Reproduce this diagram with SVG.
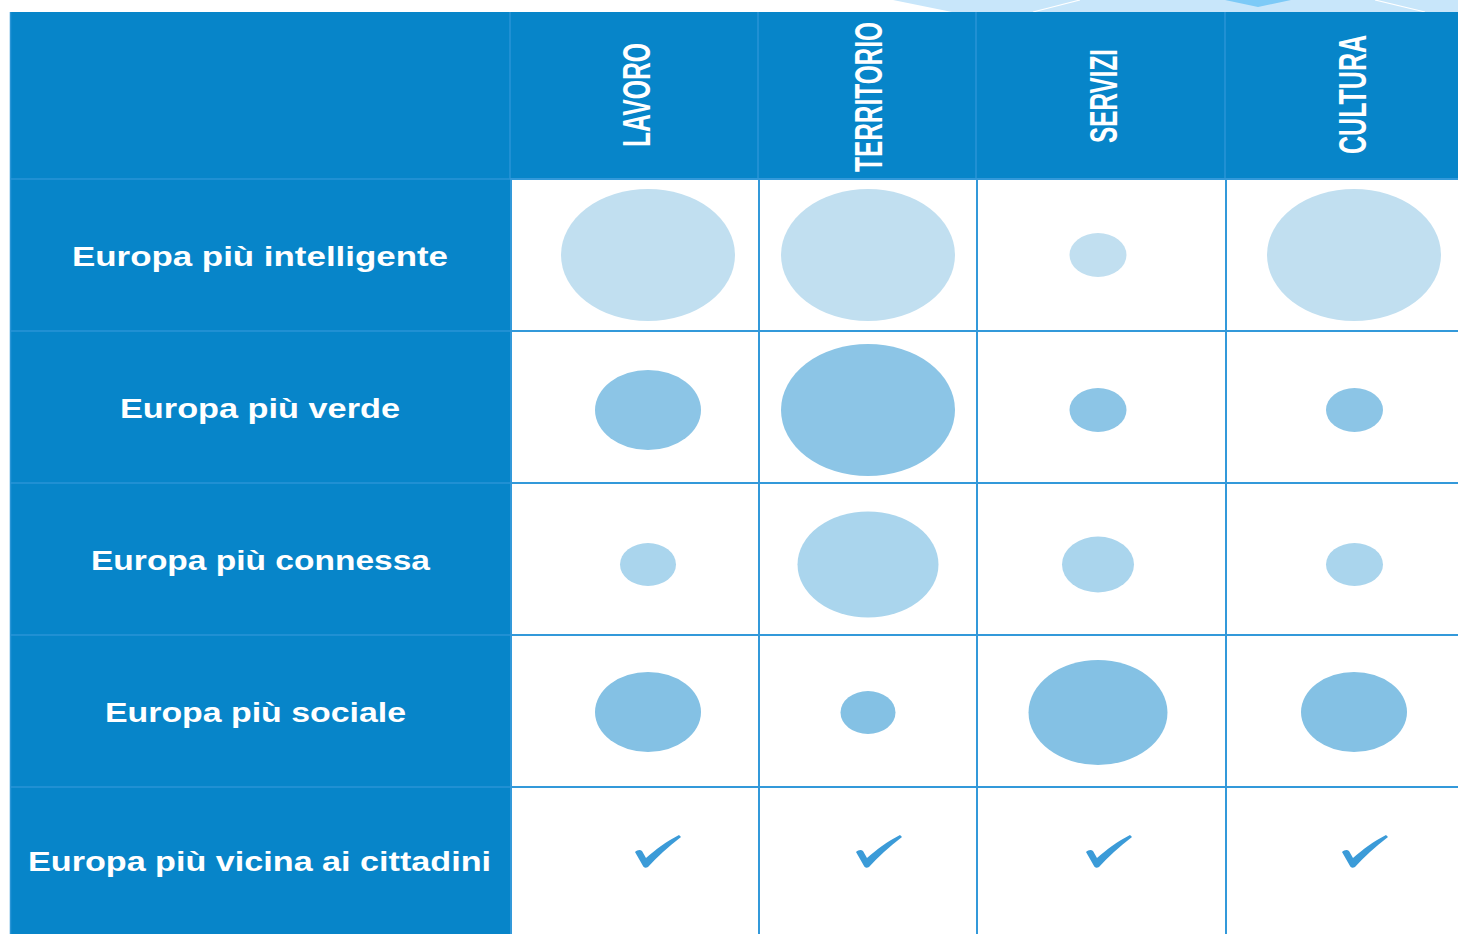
<svg xmlns="http://www.w3.org/2000/svg" width="1458" height="934" viewBox="0 0 1458 934">
<style>
.hdr{fill:#0785c9}
.lbl{font-family:"Liberation Sans",Arial,sans-serif;font-weight:bold;font-size:27px;fill:#ffffff;text-anchor:middle}
.col{font-family:"Liberation Sans",Arial,sans-serif;font-weight:bold;font-size:39px;fill:#ffffff;text-anchor:middle}
.gin{stroke:#2a95d6;stroke-width:1.5;fill:none}
.gout{stroke:#3399da;stroke-width:2;fill:none}
.c1{fill:#c1dff0}
.c2{fill:#8cc5e6}
.c3{fill:#aad5ed}
.c4{fill:#84c1e4}
.tick{fill:#3b9bd8}
</style>
<defs>
<path id="tk" d="M0,-1 C2,-3 5,-4 7,-2 L11,5 C20,-3 32,-12 44,-18 L46,-16 C33,-6 22,4 13,14 C11,15 9,15 8,13 Z"/>
</defs>
<rect width="1458" height="934" fill="#ffffff"/>
<g id="decor">
<polygon points="893,0 1458,0 1458,12 952,12" fill="#c8e6fa"/>
<polygon points="1225,0 1291,0 1258,7" fill="#7ccaf7"/>
<line x1="1033" y1="12" x2="1080" y2="0" stroke="#ffffff" stroke-width="1.2"/>
<line x1="1375" y1="0" x2="1425" y2="12" stroke="#ffffff" stroke-width="1.2"/>
</g>
<g id="header-bg">
<rect class="hdr" x="10" y="12" width="1448" height="167"/>
<rect class="hdr" x="10" y="179" width="500" height="755"/>
</g>
<g id="grid">
<line class="gin" x1="510" y1="12" x2="510" y2="179"/>
<line class="gin" x1="758" y1="12" x2="758" y2="179"/>
<line class="gin" x1="976" y1="12" x2="976" y2="179"/>
<line class="gin" x1="1225" y1="12" x2="1225" y2="179"/>
<line class="gin" x1="10" y1="179" x2="510" y2="179"/>
<line class="gin" x1="10" y1="331" x2="510" y2="331"/>
<line class="gin" x1="10" y1="483" x2="510" y2="483"/>
<line class="gin" x1="10" y1="635" x2="510" y2="635"/>
<line class="gin" x1="10" y1="787" x2="510" y2="787"/>
<line class="gin" x1="10.5" y1="12" x2="10.5" y2="934"/>
<line class="gout" x1="510" y1="179" x2="1458" y2="179"/>
<line class="gout" x1="510" y1="331" x2="1458" y2="331"/>
<line class="gout" x1="510" y1="483" x2="1458" y2="483"/>
<line class="gout" x1="510" y1="635" x2="1458" y2="635"/>
<line class="gout" x1="510" y1="787" x2="1458" y2="787"/>
<line class="gout" x1="511" y1="179" x2="511" y2="934"/>
<line class="gout" x1="759" y1="179" x2="759" y2="934"/>
<line class="gout" x1="977" y1="179" x2="977" y2="934"/>
<line class="gout" x1="1226" y1="179" x2="1226" y2="934"/>
</g>
<g id="col-lavoro"><text class="col" transform="translate(650,95) rotate(-90)" textLength="104" lengthAdjust="spacingAndGlyphs">LAVORO</text></g>
<g id="col-territorio"><text class="col" transform="translate(882,97) rotate(-90)" textLength="150" lengthAdjust="spacingAndGlyphs">TERRITORIO</text></g>
<g id="col-servizi"><text class="col" transform="translate(1117,96) rotate(-90)" textLength="94" lengthAdjust="spacingAndGlyphs">SERVIZI</text></g>
<g id="col-cultura"><text class="col" transform="translate(1366,94.5) rotate(-90)" textLength="119" lengthAdjust="spacingAndGlyphs">CULTURA</text></g>
<g id="row-intelligente">
<text class="lbl" x="260" y="266" textLength="376" lengthAdjust="spacingAndGlyphs">Europa più intelligente</text>
<ellipse class="c1" cx="648" cy="255" rx="87" ry="66"/>
<ellipse class="c1" cx="868" cy="255" rx="87" ry="66"/>
<ellipse class="c1" cx="1098" cy="255" rx="28.5" ry="22"/>
<ellipse class="c1" cx="1354" cy="255" rx="87" ry="66"/>
</g>
<g id="row-verde">
<text class="lbl" x="260" y="418" textLength="280" lengthAdjust="spacingAndGlyphs">Europa più verde</text>
<ellipse class="c2" cx="648" cy="410" rx="53" ry="40"/>
<ellipse class="c2" cx="868" cy="410" rx="87" ry="66"/>
<ellipse class="c2" cx="1098" cy="410" rx="28.5" ry="22"/>
<ellipse class="c2" cx="1354.5" cy="410" rx="28.5" ry="22"/>
</g>
<g id="row-connessa">
<text class="lbl" x="260.5" y="570" textLength="339" lengthAdjust="spacingAndGlyphs">Europa più connessa</text>
<ellipse class="c3" cx="648" cy="564.5" rx="28" ry="21.5"/>
<ellipse class="c3" cx="868" cy="564.5" rx="70.5" ry="53"/>
<ellipse class="c3" cx="1098" cy="564.5" rx="36" ry="28"/>
<ellipse class="c3" cx="1354.5" cy="564.5" rx="28.5" ry="21.5"/>
</g>
<g id="row-sociale">
<text class="lbl" x="255.5" y="722" textLength="301" lengthAdjust="spacingAndGlyphs">Europa più sociale</text>
<ellipse class="c4" cx="648" cy="712" rx="53" ry="40"/>
<ellipse class="c4" cx="868" cy="712.5" rx="27.5" ry="21.5"/>
<ellipse class="c4" cx="1098" cy="712.5" rx="69.5" ry="52.5"/>
<ellipse class="c4" cx="1354" cy="712" rx="53" ry="40"/>
</g>
<g id="row-vicina">
<text class="lbl" x="259.5" y="871" textLength="463" lengthAdjust="spacingAndGlyphs">Europa più vicina ai cittadini</text>
<use href="#tk" class="tick" x="635" y="853"/>
<use href="#tk" class="tick" x="856" y="853"/>
<use href="#tk" class="tick" x="1086" y="853"/>
<use href="#tk" class="tick" x="1342" y="853"/>
</g>
</svg>
